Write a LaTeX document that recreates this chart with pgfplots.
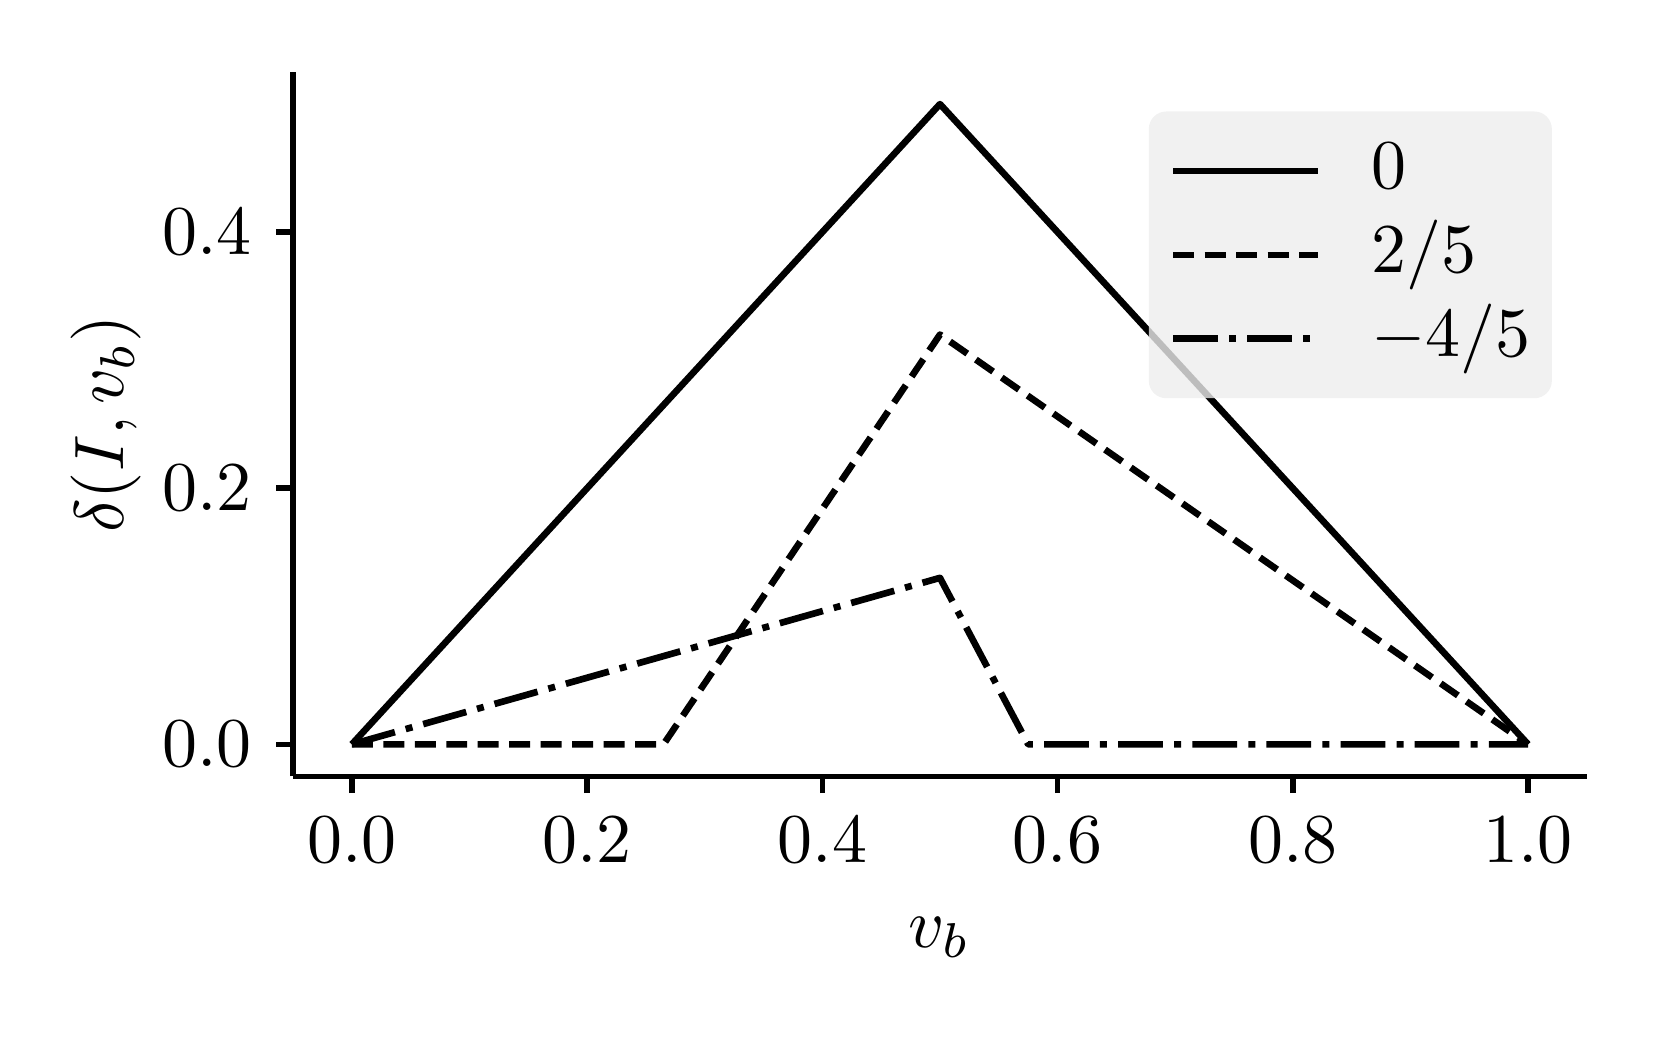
\documentclass[border=0pt]{standalone}
\usepackage{pgfplots}
\pgfplotsset{compat=1.18}
\begin{document}
\begin{tikzpicture}
% page frame, axis box sits at the origin
\useasboundingbox (-41.9pt,-37.4pt) rectangle (195.6pt,111pt);
\begin{axis}[
    scale only axis,
    width=185pt,
    height=100.7pt,
    xmin=-0.05, xmax=1.05,
    ymin=-0.025, ymax=0.525,
    axis x line*=bottom,
    axis y line*=left,
    axis line style={-, line width=0.8pt},
    xtick={0,0.2,0.4,0.6,0.8,1.0},
    ytick={0,0.2,0.4},
    tick align=outside,
    major tick length=2.4pt,
    tick style={line width=0.8pt, black},
    xticklabel style={/pgf/number format/.cd, fixed, fixed zerofill, precision=1},
    yticklabel style={/pgf/number format/.cd, fixed, fixed zerofill, precision=1},
    xlabel={$v_b$},
    ylabel={$\delta(I, v_b)$},
    xlabel style={at={(axis description cs:0.5,0)}, anchor=center, yshift=-23pt},
    ylabel style={at={(axis description cs:0,0.5)}, anchor=center, yshift=26.7pt},
    legend cell align=left,
    legend image code/.code={\draw[#1] (0pt,0pt) -- (20.7pt,0pt);},
    legend style={at={(0.974,0.946)}, anchor=north east, draw=none,
        fill=black!7, fill opacity=0.8, text opacity=1, rounded corners=2.5pt,
        inner xsep=3pt, inner ysep=3.5pt, row sep=2pt, column sep=7.2pt,
        nodes={inner sep=0pt, text height=7.5pt, text depth=2.5pt}},
    every axis plot/.append style={line width=0.95pt, black, line join=round},
]
\addplot[black, solid, no markers] coordinates {(0,0) (0.5,0.5) (1,0)};
\addlegendentry{$0$}
\addplot[black, no markers, dash pattern=on 3pt off 1.5pt] coordinates {(0,0) (0.265,0) (0.5,0.32) (1,0)};
\addlegendentry{$2/5$}
\addplot[black, no markers, dash pattern=on 6.4pt off 1.6pt on 1pt off 1.6pt] coordinates {(0,0) (0.5,0.13) (0.575,0) (1,0)};
\addlegendentry{$-4/5$}
\end{axis}
\end{tikzpicture}
\end{document}
